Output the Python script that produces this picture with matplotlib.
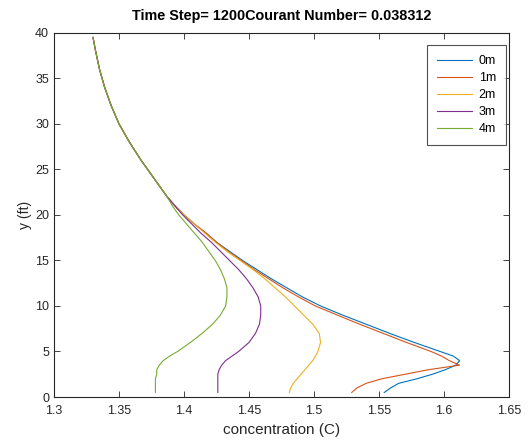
import numpy as np
import matplotlib
matplotlib.use('Agg')
import matplotlib.pyplot as plt

plt.rcParams['font.family'] = ['Liberation Sans', 'DejaVu Sans']

# depth points (ft) shared by all curves
y = [0.5, 1, 1.5, 2, 2.5, 3, 3.5, 4, 4.5, 5, 6, 7, 8, 9, 10, 11, 12, 13, 14, 15,
     16, 17, 18, 19, 20, 21, 22, 24, 26, 28, 30, 32, 34, 36, 38, 39.5]

# common upper part (y >= 22)
top = [1.387, 1.377, 1.367, 1.358, 1.350, 1.344, 1.339, 1.335, 1.332, 1.330]

c_0m = [1.554, 1.559, 1.565, 1.579, 1.591, 1.601, 1.609, 1.612, 1.607, 1.597, 1.577, 1.558,
        1.540, 1.522, 1.505, 1.491, 1.479, 1.467, 1.456, 1.445, 1.435, 1.425, 1.417, 1.408,
        1.400, 1.393] + top
c_1m = [1.529, 1.533, 1.540, 1.552, 1.570, 1.588, 1.612, 1.604, 1.598, 1.590, 1.571, 1.553,
        1.535, 1.518, 1.501, 1.488, 1.476, 1.465, 1.454, 1.444, 1.434, 1.425, 1.417, 1.408,
        1.400, 1.393] + top
c_2m = [1.481, 1.482, 1.484, 1.487, 1.490, 1.493, 1.496, 1.499, 1.501, 1.503, 1.505, 1.504,
        1.499, 1.492, 1.485, 1.478, 1.470, 1.462, 1.453, 1.443, 1.433, 1.424, 1.416, 1.408,
        1.400, 1.393] + top
c_3m = [1.426, 1.426, 1.426, 1.426, 1.426, 1.427, 1.429, 1.432, 1.437, 1.442, 1.450, 1.455,
        1.458, 1.459, 1.459, 1.457, 1.453, 1.448, 1.442, 1.435, 1.428, 1.421, 1.413, 1.406,
        1.399, 1.393] + top
c_4m = [1.378, 1.378, 1.378, 1.378, 1.379, 1.379, 1.381, 1.384, 1.389, 1.395, 1.405, 1.414,
        1.422, 1.428, 1.432, 1.433, 1.433, 1.431, 1.428, 1.424, 1.419, 1.414, 1.408, 1.402,
        1.396, 1.391] + top

labels = ['0m', '1m', '2m', '3m', '4m']
colors = ['#0072BD', '#D95319', '#EDB120', '#7E2F8E', '#77AC30']

fig = plt.figure(figsize=(5.31, 4.43), dpi=100)
ax = fig.add_axes([0.1017, 0.1038, 0.857, 0.822])

for c, lab, col in zip([c_0m, c_1m, c_2m, c_3m, c_4m], labels, colors):
    ax.plot(c, y, color=col, lw=0.8, label=lab)

ax.set_xlim(1.3, 1.65)
ax.set_ylim(0, 40)
ax.set_xticks(np.arange(1.3, 1.651, 0.05))
ax.set_xticklabels(['1.3', '1.35', '1.4', '1.45', '1.5', '1.55', '1.6', '1.65'])
ax.set_yticks(np.arange(0, 41, 5))
ax.tick_params(direction='in', top=True, right=True, length=4, width=0.6,
               labelsize=9, colors='#262626')
ax.tick_params(axis='x', pad=6)
for s in ax.spines.values():
    s.set_color('#262626')
    s.set_linewidth(0.8)

ax.set_xlabel('concentration (C)', fontsize=11, color='#262626', labelpad=4)
ax.set_ylabel('y (ft)', fontsize=10, color='#262626', labelpad=2)
ax.set_title('Time Step= 1200Courant Number= 0.038312', fontsize=10.4,
             fontweight='bold', pad=9)

leg = ax.legend(loc='upper right', bbox_to_anchor=(0.993, 0.967), borderaxespad=0,
                fontsize=9, fancybox=False, edgecolor='#262626', handlelength=2.8,
                handletextpad=0.5, borderpad=0.8, labelspacing=0.4)
leg.get_frame().set_linewidth(0.8)

fig.savefig('out.png', dpi=100)
